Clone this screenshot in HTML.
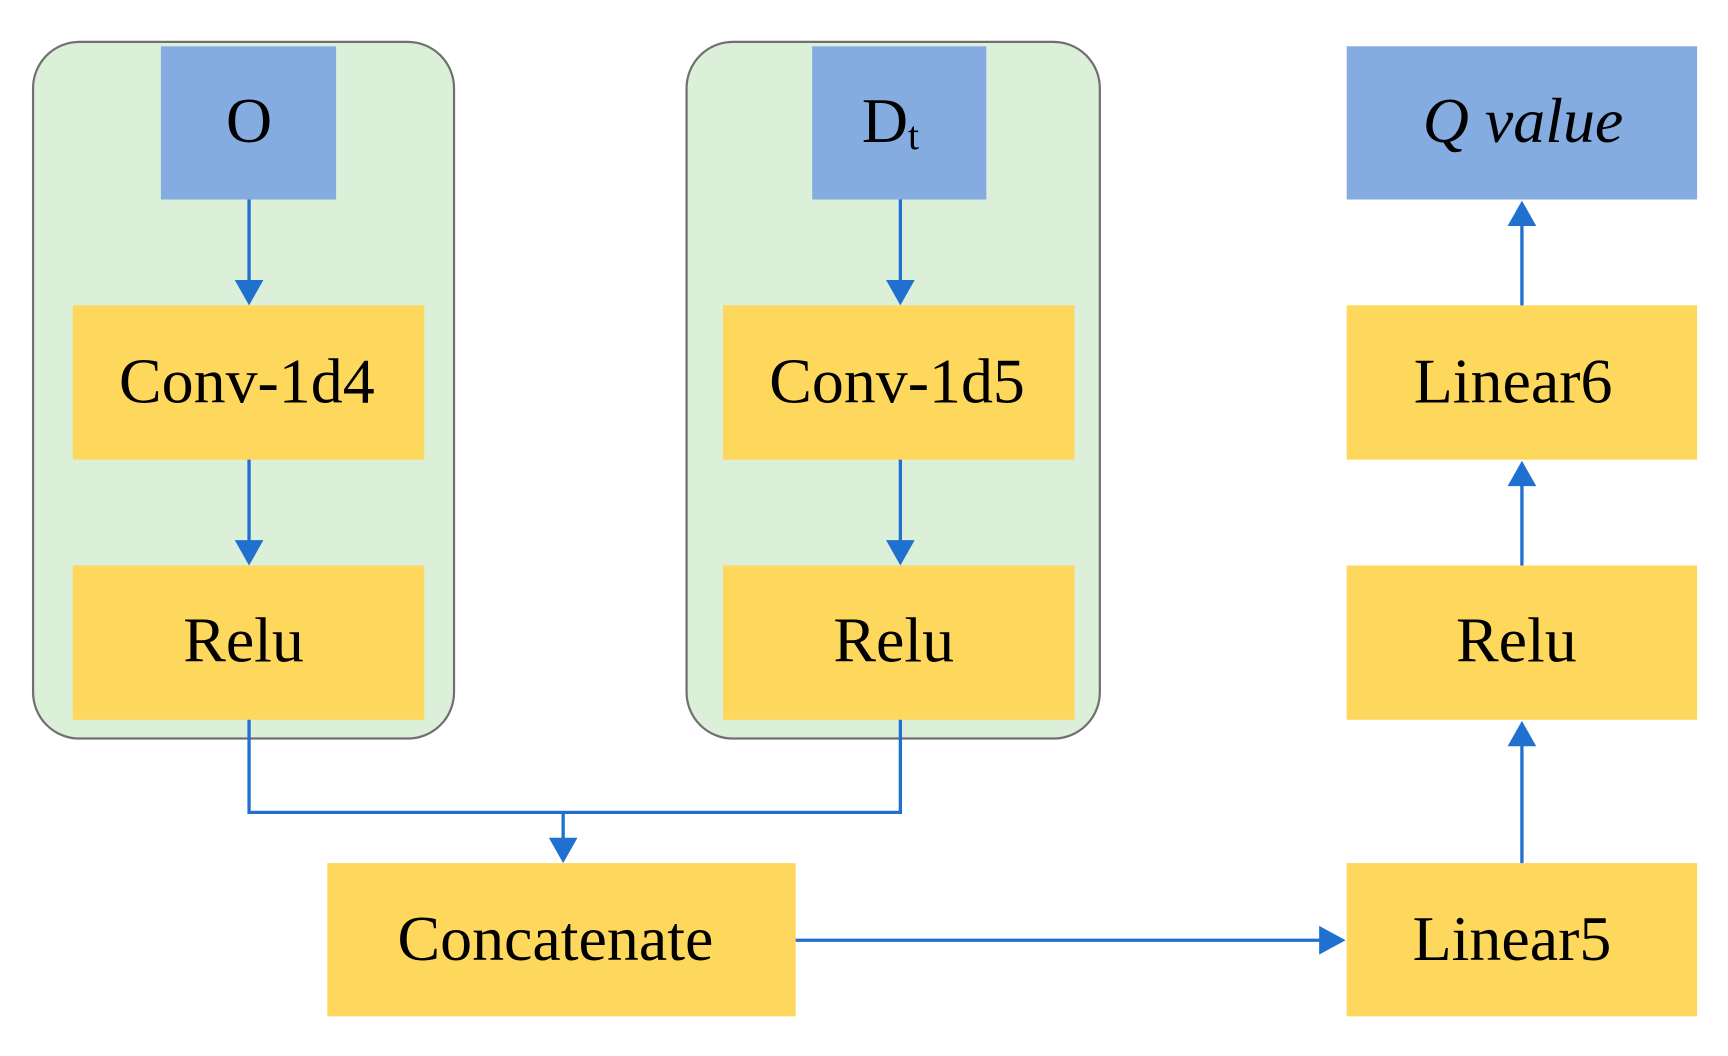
<!DOCTYPE html>
<html><head><meta charset="utf-8"><style>html,body{margin:0;padding:0;background:#fff;}svg{display:block}</style></head>
<body>
<svg width="1728" height="1056" viewBox="0 0 1568 958" preserveAspectRatio="none" xmlns="http://www.w3.org/2000/svg">
<defs>
<marker id="a" markerWidth="10" markerHeight="10" refX="9" refY="5" orient="auto" markerUnits="userSpaceOnUse" viewBox="0 0 10 10">
</marker>
</defs>
<rect x="30" y="38" width="382" height="632" rx="42" fill="#dcefd9" stroke="#707070" stroke-width="2"/>
<rect x="623" y="38" width="375" height="632" rx="42" fill="#dcefd9" stroke="#707070" stroke-width="2"/>
<g fill="#84ace0">
<rect x="146" y="42" width="159" height="139"/>
<rect x="737" y="42" width="158" height="139"/>
<rect x="1222" y="42" width="318" height="139"/>
</g>
<g fill="#fdd85c">
<rect x="66" y="277" width="319" height="140"/>
<rect x="66" y="513" width="319" height="140"/>
<rect x="656" y="277" width="319" height="140"/>
<rect x="656" y="513" width="319" height="140"/>
<rect x="1222" y="277" width="318" height="140"/>
<rect x="1222" y="513" width="318" height="140"/>
<rect x="1222" y="783" width="318" height="139"/>
<rect x="297" y="783" width="425" height="139"/>
</g>
<g stroke="#2070d0" stroke-width="3" fill="none">
<line x1="226" y1="181" x2="226" y2="258"/>
<line x1="226" y1="417" x2="226" y2="494"/>
<line x1="817" y1="181" x2="817" y2="258"/>
<line x1="817" y1="417" x2="817" y2="494"/>
<polyline points="226,653 226,737 817,737 817,653"/>
<line x1="511" y1="737" x2="511" y2="764"/>
<line x1="722" y1="853" x2="1202" y2="853"/>
<line x1="1381" y1="783" x2="1381" y2="673"/>
<line x1="1381" y1="513" x2="1381" y2="437"/>
<line x1="1381" y1="277" x2="1381" y2="201"/>
</g>
<g fill="#2070d0">
<polygon points="213,254 239,254 226,277"/>
<polygon points="213,490 239,490 226,513"/>
<polygon points="804,254 830,254 817,277"/>
<polygon points="804,490 830,490 817,513"/>
<polygon points="498,760 524,760 511,783"/>
<polygon points="1197,840 1197,866 1221,853"/>
<polygon points="1368,677 1394,677 1381,654"/>
<polygon points="1368,441 1394,441 1381,418"/>
<polygon points="1368,205 1394,205 1381,182"/>
</g>
<g font-family="'Liberation Serif', serif" font-size="58" fill="#000" text-anchor="middle">
<text x="226" y="129">O</text>
<text x="808" y="129">D<tspan font-size="36" dy="6">t</tspan></text>
<text x="1382" y="129" font-style="italic">Q value</text>
<text x="224" y="365">Conv-1d4</text>
<text x="814" y="365">Conv-1d5</text>
<text x="1373" y="365">Linear6</text>
<text x="221" y="600">Relu</text>
<text x="811" y="600">Relu</text>
<text x="1376" y="600">Relu</text>
<text x="504" y="871">Concatenate</text>
<text x="1372" y="871">Linear5</text>
</g>
</svg>
</body></html>
